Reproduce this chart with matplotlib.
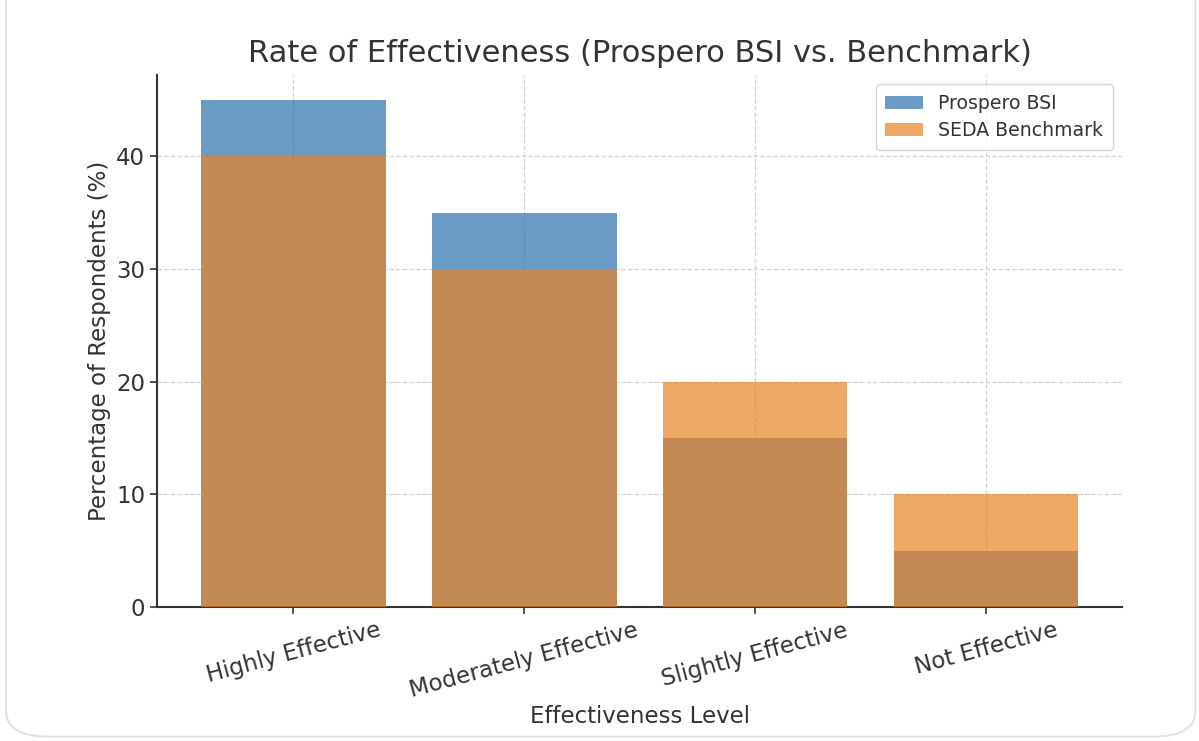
import matplotlib
matplotlib.use("Agg")
import matplotlib.pyplot as plt
import numpy as np
from matplotlib.patches import FancyBboxPatch

categories = ["Highly Effective", "Moderately Effective", "Slightly Effective", "Not Effective"]
prospero_bsi = [45, 35, 15, 5]
seda_benchmark = [40, 30, 20, 10]

text_color = "#333333"
plt.rcParams["font.family"] = ["DejaVu Sans"]

fig = plt.figure(figsize=(11.99, 7.41), dpi=100)
fig.patch.set_facecolor("white")

# light card outline around the figure
card = FancyBboxPatch((0.005, 0.006), 0.992, 1.2,
                      boxstyle="round,pad=0,rounding_size=0.035",
                      transform=fig.transFigure, facecolor="none",
                      edgecolor="#e2e2e2", linewidth=1.5, zorder=0)
fig.patches.append(card)

ax = fig.add_axes([0.131, 0.181, 0.805, 0.718])
ax.set_facecolor("white")

x = np.arange(len(categories))
ax.bar(x, prospero_bsi, width=0.8, color="#2d72ae", alpha=0.7,
       label="Prospero BSI", zorder=2)
ax.bar(x, seda_benchmark, width=0.8, color="#ea8327", alpha=0.7,
       label="SEDA Benchmark", zorder=3)

ax.set_xticks(x)
ax.set_xticklabels(categories, rotation=15, fontsize=16.5, color=text_color)
ax.tick_params(axis="y", labelsize=16.5, labelcolor=text_color)
ax.tick_params(axis="both", color=text_color, length=5, width=1.2)
ax.set_yticks([0, 10, 20, 30, 40])

ax.set_title("Rate of Effectiveness (Prospero BSI vs. Benchmark)",
             fontsize=22, color=text_color, pad=9)
ax.set_xlabel("Effectiveness Level", fontsize=16.5, color=text_color, labelpad=2)
ax.set_ylabel("Percentage of Respondents (%)", fontsize=16.5, color=text_color)

ax.grid(True, linestyle="--", color="#cccccc", linewidth=0.9, alpha=0.9, zorder=0)
ax.set_axisbelow(True)

for side in ("top", "right"):
    ax.spines[side].set_visible(False)
for side in ("left", "bottom"):
    ax.spines[side].set_color(text_color)
    ax.spines[side].set_linewidth(1.5)

leg = ax.legend(fontsize=13.6, loc="upper right", frameon=True,
                borderpad=0.5, handlelength=2.0, labelspacing=0.45)
leg.get_frame().set_edgecolor("#cccccc")
for t in leg.get_texts():
    t.set_color(text_color)

fig.savefig("out.png", dpi=100, facecolor="white")
